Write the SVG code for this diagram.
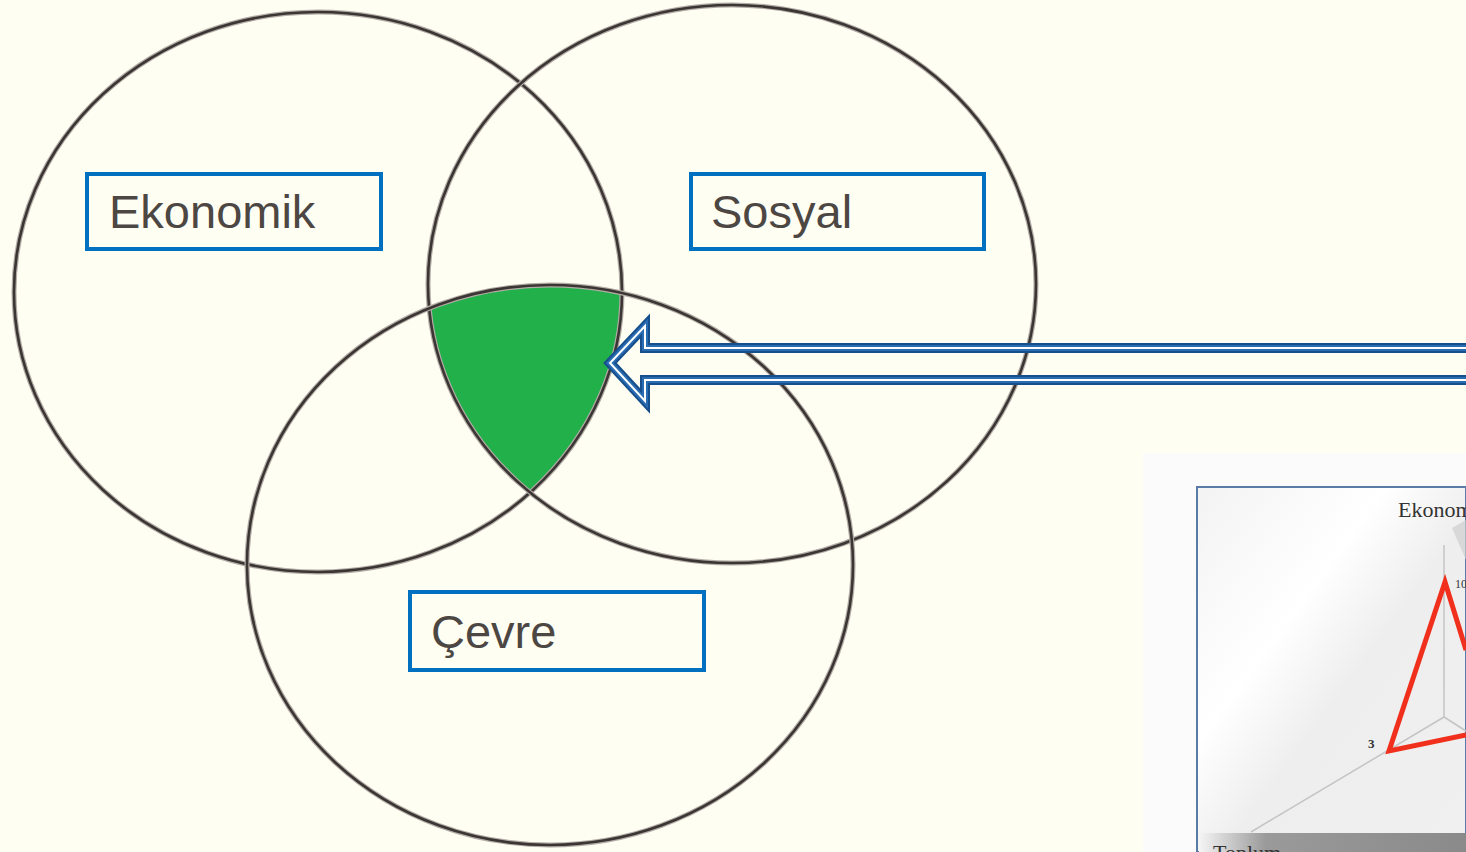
<svg xmlns="http://www.w3.org/2000/svg" width="1466" height="852" viewBox="0 0 1466 852">
  <style>
    .ring-halo { fill: none; stroke: #b3aca6; stroke-width: 5; }
    .ring { fill: none; stroke: #3b3533; stroke-width: 2.6; }
    .lbl-box { fill: #fefef3; stroke: #0070c0; stroke-width: 4; }
    .lbl { font-family: "Liberation Sans", Arial, sans-serif; font-size: 47px; fill: #4d4744; }
    .serif { font-family: "Liberation Serif", "Times New Roman", serif; fill: #333; }
    .arr { fill: none; stroke-linejoin: miter; }
  </style>
  <defs>
    <clipPath id="cE"><ellipse cx="318" cy="292" rx="304" ry="280"/></clipPath>
    <clipPath id="cS"><ellipse cx="732" cy="284" rx="304" ry="279"/></clipPath>
    <clipPath id="cC"><ellipse cx="550" cy="565" rx="303" ry="280"/></clipPath>
    <linearGradient id="panelG" x1="0" y1="0" x2="1" y2="1">
      <stop offset="0" stop-color="#f3f3f3"/>
      <stop offset="0.35" stop-color="#ffffff"/>
      <stop offset="0.55" stop-color="#eeeeee"/>
      <stop offset="1" stop-color="#f0f0f0"/>
    </linearGradient>
    <linearGradient id="shadowG" x1="0" y1="0" x2="1" y2="0">
      <stop offset="0" stop-color="#f5f5f5"/>
      <stop offset="0.25" stop-color="#9a9a9a"/>
      <stop offset="1" stop-color="#8a8a8a"/>
    </linearGradient>
    <path id="arrowShape" d="M1475,348 L645,348 L645,326 L610,363 L645,401 L645,380 L1475,380 Z"/>
  </defs>

  <rect x="0" y="0" width="1466" height="852" fill="#fefef3"/>

  <!-- chart picture (bottom right) -->
  <g id="chart">
    <rect x="1143" y="453" width="323" height="399" fill="#fbfbfb"/>
    <rect x="1197" y="487" width="269" height="365" fill="url(#panelG)" stroke="#5a7aa8" stroke-width="2"/>
    <rect x="1199" y="833" width="267" height="19" fill="url(#shadowG)"/>
    <polygon points="1452,528 1466,520 1466,560" fill="#cfcfcf" opacity="0.7"/>
    <line x1="1444" y1="545" x2="1444" y2="717" stroke="#c4c4c4" stroke-width="1.5"/>
    <line x1="1444" y1="717" x2="1251" y2="832" stroke="#c4c4c4" stroke-width="1.5"/>
    <line x1="1444" y1="717" x2="1466" y2="731" stroke="#c4c4c4" stroke-width="1.5"/>
    <polyline points="1466,735 1389,751 1445,582 1466,650" fill="none" stroke="#f0301c" stroke-width="5" stroke-linejoin="miter"/>
    <text class="serif" x="1398" y="517" font-size="22">Ekonomik</text>
    <text class="serif" x="1455" y="588" font-size="12">10</text>
    <text class="serif" x="1368" y="748" font-size="13" font-weight="bold" fill="#444">3</text>
    <text class="serif" x="1213" y="860" font-size="22">Toplum</text>
  </g>

  <!-- shaded intersection -->
  <g id="intersection">
    <g clip-path="url(#cE)">
      <g clip-path="url(#cS)">
        <rect x="0" y="0" width="1466" height="852" fill="#22b04b" clip-path="url(#cC)"/>
      </g>
    </g>
  </g>

  <!-- circles -->
  <g id="circle-ekonomik">
    <ellipse class="ring-halo" cx="318" cy="292" rx="304" ry="280"/>
    <ellipse class="ring" cx="318" cy="292" rx="304" ry="280"/>
  </g>
  <g id="circle-sosyal">
    <ellipse class="ring-halo" cx="732" cy="284" rx="304" ry="279"/>
    <ellipse class="ring" cx="732" cy="284" rx="304" ry="279"/>
  </g>
  <g id="circle-cevre">
    <ellipse class="ring-halo" cx="550" cy="565" rx="303" ry="280"/>
    <ellipse class="ring" cx="550" cy="565" rx="303" ry="280"/>
  </g>

  <!-- labels -->
  <g id="label-ekonomik">
    <rect class="lbl-box" x="87" y="174" width="294" height="75"/>
    <text class="lbl" x="109" y="228">Ekonomik</text>
  </g>
  <g id="label-sosyal">
    <rect class="lbl-box" x="691" y="174" width="293" height="75"/>
    <text class="lbl" x="711" y="228">Sosyal</text>
  </g>
  <g id="label-cevre">
    <rect class="lbl-box" x="410" y="592" width="294" height="78"/>
    <text class="lbl" x="431" y="648">Çevre</text>
  </g>

  <!-- connector: block arrow pointing at intersection -->
  <g id="connectors">
    <use href="#arrowShape" class="arr" stroke="#164f8c" stroke-width="10"/>
    <use href="#arrowShape" class="arr" stroke="#2a6cb2" stroke-width="6"/>
    <use href="#arrowShape" class="arr" stroke="#ffffff" stroke-width="2"/>
  </g>
</svg>
